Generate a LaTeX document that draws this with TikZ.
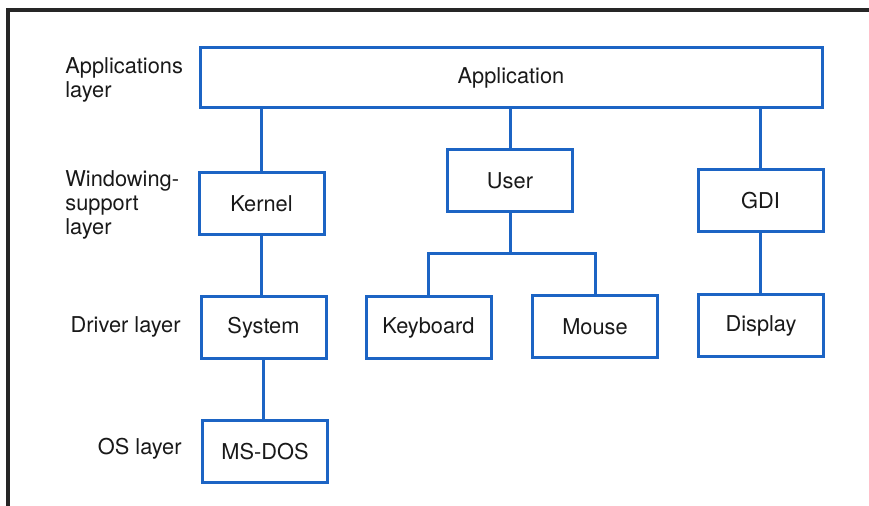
\documentclass[tikz,border=0pt]{standalone}
\usepackage{fontspec}
\setmainfont{TeX Gyre Heros}
\usepackage{xcolor}
\usepackage{tikz}
\usetikzlibrary{positioning}

\definecolor{layerblue}{RGB}{28,100,196}

\begin{document}
\begin{tikzpicture}[
  x=0.5pt, y=-0.5pt,
  every node/.style = {font=\fontsize{10.9}{11.8}\selectfont, text=black!90},
  box/.style  = {draw=layerblue, line width=1.5pt, align=center,
                 minimum width=62.5pt, minimum height=31pt, inner sep=0pt},
  wide/.style = {box, minimum width=311pt, minimum height=30pt},
  conn/.style = {draw=layerblue, line width=1.5pt},
  lyr/.style  = {align=left, inner sep=0pt}
]
  \useasboundingbox (0,0) rectangle (869,506);

  % outer frame
  \draw[line width=1.6pt, black!85] (8,506) -- (8,10) -- (869,10);

  % layer names
  \node[lyr, anchor=west] (lapp)  at (65,80)  {Applications\\layer};
  \node[lyr, anchor=west] (lwin)  at (65,205) {Windowing-\\support\\layer};
  \node[lyr, anchor=east] (ldrv)  at (181,327) {Driver layer};
  \node[lyr, anchor=east] (los)   at (182,449) {OS layer};

  % modules
  \node[wide] (app)   at (511,78)    {Application};
  \node[box]  (kern)  at (261.5,204) {Kernel};
  \node[box]  (user)  at (510,181)   {User};
  \node[box]  (gdi)   at (760.5,201) {GDI};
  \node[box]  (sys)   at (263.5,328) {System};
  \node[box]  (kbd)   at (428.5,328) {Keyboard};
  \node[box]  (mouse) at (595,326.5) {Mouse};
  \node[box]  (disp)  at (761,325.5) {Display};
  \node[box]  (dos)   at (265,451.5) {MS-DOS};

  \coordinate (bus) at (510,254);

  \draw[conn] (kern.north) -- (kern.north |- app.south);
  \draw[conn] (user.north) -- (user.north |- app.south);
  \draw[conn] (gdi.north)  -- (gdi.north |- app.south);
  \draw[conn] (kern.south) -- (kern.south |- sys.north);
  \draw[conn] (sys.south)  -- (sys.south |- dos.north);
  \draw[conn] (user.south) -- (bus);
  \draw[conn] (kbd.north) |- (bus) -| (mouse.north);
  \draw[conn] (gdi.south)  -- (gdi.south |- disp.north);
\end{tikzpicture}
\end{document}
